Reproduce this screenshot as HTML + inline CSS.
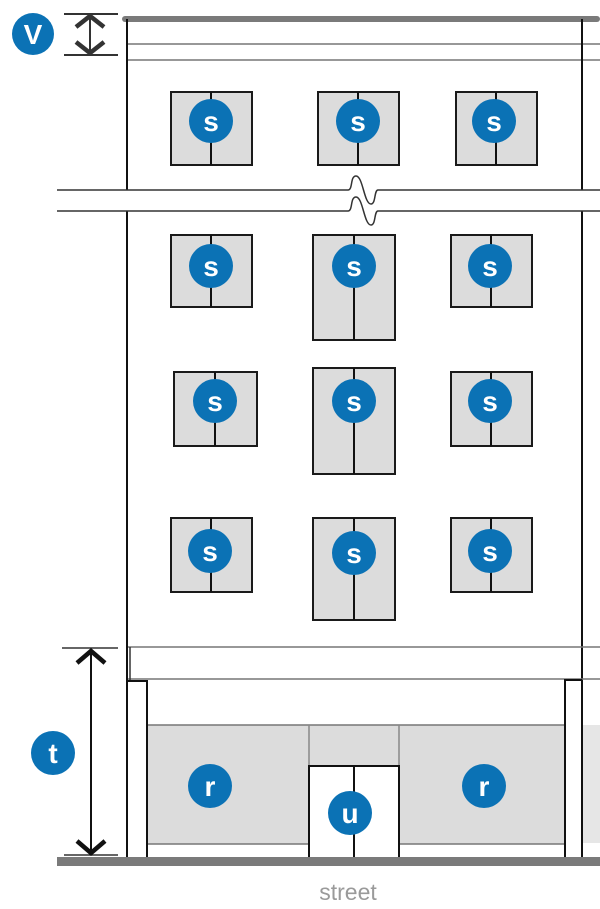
<!DOCTYPE html>
<html><head><meta charset="utf-8"><style>
html,body{margin:0;padding:0;background:#fff;}
svg{display:block;}
.c{fill:#0b72b5;}
.t{fill:#fff;font-family:"Liberation Sans",sans-serif;font-weight:bold;font-size:28px;text-anchor:middle;}
.w{fill:#dcdcdc;stroke:#1a1a1a;stroke-width:2;}
</style></head><body>
<svg width="600" height="909" viewBox="0 0 600 909" xmlns="http://www.w3.org/2000/svg">
<rect x="122" y="16" width="478" height="6" rx="3" fill="#7a7a7a"/>
<line x1="127" y1="44" x2="600" y2="44" stroke="#777" stroke-width="1.5"/>
<line x1="127" y1="60" x2="600" y2="60" stroke="#777" stroke-width="1.5"/>
<line x1="127" y1="19" x2="127" y2="190" stroke="#111" stroke-width="2"/>
<line x1="582" y1="19" x2="582" y2="190" stroke="#111" stroke-width="2"/>
<line x1="127" y1="211" x2="127" y2="860" stroke="#111" stroke-width="2"/>
<line x1="582" y1="211" x2="582" y2="862" stroke="#111" stroke-width="2"/>
<path d="M57 190 H348 C353 190 350 176 356 176 C363 176 364 204 371 204 C376 204 374 190 378 190 H600" fill="none" stroke="#333" stroke-width="1.5"/>
<path d="M57 211 H348 C353 211 350 197 356 197 C363 197 364 225 371 225 C376 225 374 211 378 211 H600" fill="none" stroke="#333" stroke-width="1.5"/>
<circle class="c" cx="33" cy="34" r="21"/><text class="t" x="33" y="44">V</text>
<line x1="64" y1="14" x2="118" y2="14" stroke="#333" stroke-width="2"/>
<line x1="64" y1="55" x2="118" y2="55" stroke="#333" stroke-width="2"/>
<line x1="90" y1="16" x2="90" y2="53" stroke="#333" stroke-width="2"/>
<polyline points="76,27 90,16 104,27" fill="none" stroke="#333" stroke-width="4.5"/>
<polyline points="76,42 90,53 104,42" fill="none" stroke="#333" stroke-width="4.5"/>
<g>
<rect class="w" x="171" y="92" width="81" height="73"/><line x1="211" y1="92" x2="211" y2="165" stroke="#111" stroke-width="2"/>
<rect class="w" x="318" y="92" width="81" height="73"/><line x1="358" y1="92" x2="358" y2="165" stroke="#111" stroke-width="2"/>
<rect class="w" x="456" y="92" width="81" height="73"/><line x1="496" y1="92" x2="496" y2="165" stroke="#111" stroke-width="2"/>
<rect class="w" x="171" y="235" width="81" height="72"/><line x1="211" y1="235" x2="211" y2="307" stroke="#111" stroke-width="2"/>
<rect class="w" x="313" y="235" width="82" height="105"/><line x1="354" y1="235" x2="354" y2="340" stroke="#111" stroke-width="2"/>
<rect class="w" x="451" y="235" width="81" height="72"/><line x1="491" y1="235" x2="491" y2="307" stroke="#111" stroke-width="2"/>
<rect class="w" x="174" y="372" width="83" height="74"/><line x1="215" y1="372" x2="215" y2="446" stroke="#111" stroke-width="2"/>
<rect class="w" x="313" y="368" width="82" height="106"/><line x1="354" y1="368" x2="354" y2="474" stroke="#111" stroke-width="2"/>
<rect class="w" x="451" y="372" width="81" height="74"/><line x1="491" y1="372" x2="491" y2="446" stroke="#111" stroke-width="2"/>
<rect class="w" x="171" y="518" width="81" height="74"/><line x1="211" y1="518" x2="211" y2="592" stroke="#111" stroke-width="2"/>
<rect class="w" x="313" y="518" width="82" height="102"/><line x1="354" y1="518" x2="354" y2="620" stroke="#111" stroke-width="2"/>
<rect class="w" x="451" y="518" width="81" height="74"/><line x1="491" y1="518" x2="491" y2="592" stroke="#111" stroke-width="2"/>
</g>
<g>
<circle class="c" cx="211" cy="121" r="22"/><text class="t" x="211" y="131">s</text>
<circle class="c" cx="358" cy="121" r="22"/><text class="t" x="358" y="131">s</text>
<circle class="c" cx="494" cy="121" r="22"/><text class="t" x="494" y="131">s</text>
<circle class="c" cx="211" cy="266" r="22"/><text class="t" x="211" y="276">s</text>
<circle class="c" cx="354" cy="266" r="22"/><text class="t" x="354" y="276">s</text>
<circle class="c" cx="490" cy="266" r="22"/><text class="t" x="490" y="276">s</text>
<circle class="c" cx="215" cy="401" r="22"/><text class="t" x="215" y="411">s</text>
<circle class="c" cx="354" cy="401" r="22"/><text class="t" x="354" y="411">s</text>
<circle class="c" cx="490" cy="401" r="22"/><text class="t" x="490" y="411">s</text>
<circle class="c" cx="210" cy="551" r="22"/><text class="t" x="210" y="561">s</text>
<circle class="c" cx="354" cy="553" r="22"/><text class="t" x="354" y="563">s</text>
<circle class="c" cx="490" cy="551" r="22"/><text class="t" x="490" y="561">s</text>
</g>
<line x1="128" y1="647" x2="600" y2="647" stroke="#777" stroke-width="1.5"/>
<line x1="128" y1="679" x2="600" y2="679" stroke="#777" stroke-width="1.5"/>
<line x1="130" y1="647" x2="130" y2="680" stroke="#333" stroke-width="1.5"/>
<rect x="147" y="725" width="418" height="119" fill="#dcdcdc"/>
<line x1="147" y1="725" x2="565" y2="725" stroke="#777" stroke-width="1.5"/>
<line x1="147" y1="844" x2="565" y2="844" stroke="#777" stroke-width="1.5"/>
<line x1="309" y1="725" x2="309" y2="766" stroke="#888" stroke-width="1.5"/>
<line x1="399" y1="725" x2="399" y2="766" stroke="#888" stroke-width="1.5"/>
<rect x="583" y="725" width="17" height="118" fill="#e6e6e6"/>
<polyline points="127,681 147,681 147,860" fill="none" stroke="#111" stroke-width="2"/>
<polyline points="582,680 565,680 565,860" fill="none" stroke="#111" stroke-width="2"/>
<rect x="309" y="766" width="90" height="96" fill="#fff" stroke="#111" stroke-width="2"/>
<line x1="354" y1="766" x2="354" y2="862" stroke="#111" stroke-width="2"/>
<rect x="57" y="857" width="543" height="9" fill="#7a7a7a"/>
<line x1="62" y1="648" x2="118" y2="648" stroke="#333" stroke-width="1.5"/>
<line x1="64" y1="855" x2="118" y2="855" stroke="#333" stroke-width="1.5"/>
<line x1="91" y1="651" x2="91" y2="853" stroke="#111" stroke-width="2"/>
<polyline points="77,663 91,651 105,663" fill="none" stroke="#111" stroke-width="4.5"/>
<polyline points="77,841 91,853 105,841" fill="none" stroke="#111" stroke-width="4.5"/>
<circle class="c" cx="53" cy="753" r="22"/><text class="t" x="53" y="763">t</text>
<circle class="c" cx="210" cy="786" r="22"/><text class="t" x="210" y="796">r</text>
<circle class="c" cx="484" cy="786" r="22"/><text class="t" x="484" y="796">r</text>
<circle class="c" cx="350" cy="813" r="22"/><text class="t" x="350" y="823">u</text>
<text x="348" y="900" font-family="Liberation Sans, sans-serif" font-size="23" fill="#9a9a9a" text-anchor="middle">street</text>
</svg>
</body></html>
